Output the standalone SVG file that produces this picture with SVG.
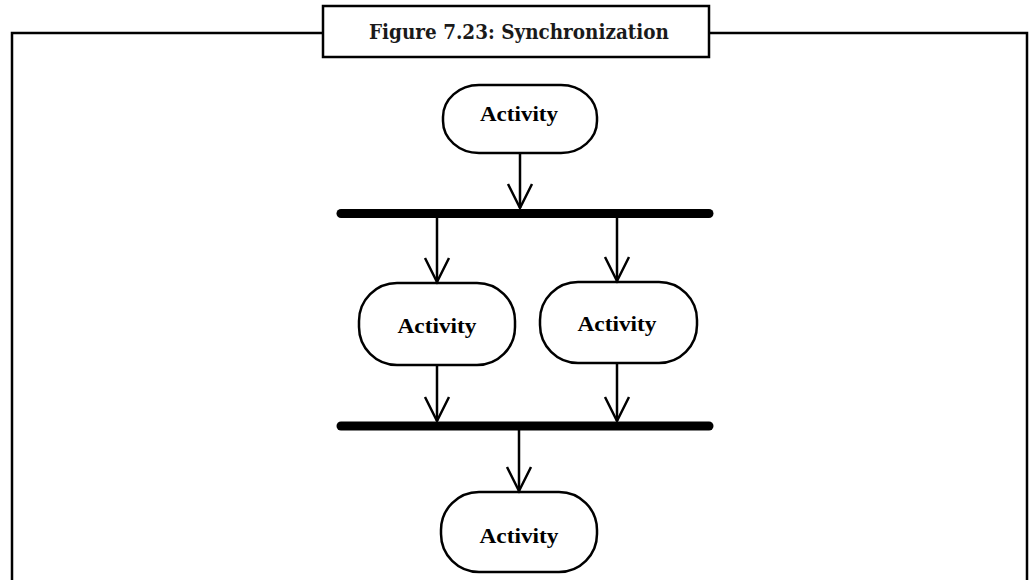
<svg xmlns="http://www.w3.org/2000/svg" width="1031" height="580" viewBox="0 0 1031 580">
  <style>
    .frame { fill: none; stroke: #000; stroke-width: 2.5; }
    .title { font-family: "DejaVu Serif", "Liberation Serif", serif; font-weight: bold; font-size: 20px; fill: #1a1a1a; }
    .act { fill: #fff; stroke: #000; stroke-width: 2.5; }
    .label { font-family: "Liberation Serif", "Times New Roman", serif; font-weight: bold; font-size: 21px; fill: #000; text-anchor: middle; }
    .bar { stroke: #000; stroke-width: 9; stroke-linecap: round; }
    .flow { stroke: #000; stroke-width: 2.5; fill: none; marker-end: url(#vhead); }
  </style>
  <defs>
    <marker id="vhead" markerUnits="userSpaceOnUse" markerWidth="30" markerHeight="30" refX="0" refY="0" orient="auto" overflow="visible">
      <path d="M-24,-12 L0,0 L-24,12" fill="none" stroke="#000" stroke-width="2.5"/>
    </marker>
  </defs>

  <rect width="1031" height="580" fill="#fff"/>

  <!-- outer frame with caption box -->
  <g id="frame">
    <polyline class="frame" points="12,590 12,33 323,33"/>
    <polyline class="frame" points="709,33 1027,33 1027,590"/>
    <rect class="frame" x="323" y="6" width="386" height="51"/>
    <text class="title" x="369" y="39" textLength="300" lengthAdjust="spacingAndGlyphs">Figure 7.23: Synchronization</text>
  </g>

  <!-- synchronization bars -->
  <g id="fork">
    <line class="bar" x1="341" y1="213.5" x2="709" y2="213.5"/>
  </g>
  <g id="join">
    <line class="bar" x1="341" y1="426" x2="709" y2="426"/>
  </g>

  <!-- activities -->
  <g id="activity-top">
    <rect class="act" x="443" y="85" width="154" height="68" rx="36" ry="32"/>
    <text class="label" x="519" y="121" textLength="78" lengthAdjust="spacingAndGlyphs">Activity</text>
  </g>
  <g id="activity-left">
    <rect class="act" x="359" y="283" width="156" height="82" rx="38" ry="38"/>
    <text class="label" x="437" y="333" textLength="79" lengthAdjust="spacingAndGlyphs">Activity</text>
  </g>
  <g id="activity-right">
    <rect class="act" x="540" y="282" width="157" height="81" rx="38" ry="38"/>
    <text class="label" x="617" y="331" textLength="79" lengthAdjust="spacingAndGlyphs">Activity</text>
  </g>
  <g id="activity-bottom">
    <rect class="act" x="441" y="492" width="156" height="80" rx="38" ry="38"/>
    <text class="label" x="519" y="543" textLength="79" lengthAdjust="spacingAndGlyphs">Activity</text>
  </g>

  <!-- control flows -->
  <g id="connectors">
    <line class="flow" x1="520" y1="153" x2="520" y2="208"/>
    <line class="flow" x1="437" y1="218" x2="437" y2="282"/>
    <line class="flow" x1="617" y1="218" x2="617" y2="281"/>
    <line class="flow" x1="437" y1="365" x2="437" y2="421"/>
    <line class="flow" x1="617" y1="363" x2="617" y2="421"/>
    <line class="flow" x1="519" y1="430" x2="519" y2="491"/>
  </g>
</svg>
